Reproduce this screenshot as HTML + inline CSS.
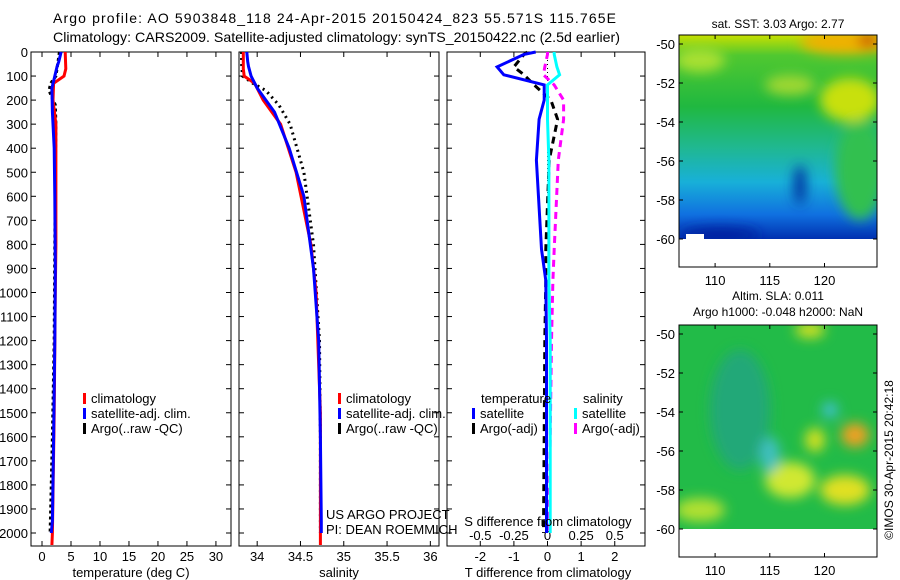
<!DOCTYPE html>
<html><head><meta charset="utf-8">
<style>
body{margin:0;background:#fff;}
svg{display:block;font-family:"Liberation Sans",sans-serif;}
text{fill:#000;}
</style></head>
<body>
<svg id="fig" width="900" height="580" viewBox="0 0 900 580" xmlns="http://www.w3.org/2000/svg">
<defs>
<linearGradient id="sstGrad" x1="0" y1="0" x2="0" y2="1">
<stop offset="0" stop-color="#c8e000"/><stop offset="0.1" stop-color="#50c830"/><stop offset="0.35" stop-color="#20b840"/><stop offset="0.55" stop-color="#20b890"/><stop offset="0.72" stop-color="#18b0d8"/><stop offset="0.88" stop-color="#1070e0"/><stop offset="1" stop-color="#0030b0"/>
</linearGradient>
<filter id="blur4"><feGaussianBlur stdDeviation="6"/></filter>
<clipPath id="m1clip"><rect x="679" y="35" width="198" height="204"/></clipPath>
<clipPath id="m2clip"><rect x="679" y="325" width="198" height="204"/></clipPath>
</defs>
<text x="53" y="23" font-size="14" textLength="563" lengthAdjust="spacing">Argo profile: AO 5903848_118 24-Apr-2015 20150424_823 55.571S 115.765E</text>
<text x="53" y="42" font-size="14" textLength="567" lengthAdjust="spacingAndGlyphs">Climatology: CARS2009. Satellite-adjusted climatology: synTS_20150422.nc (2.5d earlier)</text>
<g id="plots"></g>

<g>
<text x="778" y="28" font-size="12" text-anchor="middle">sat. SST: 3.03 Argo: 2.77</text>
<g clip-path="url(#m1clip)">
<rect x="679" y="35" width="198" height="204" fill="url(#sstGrad)"/>
<g filter="url(#blur4)">
<ellipse cx="845" cy="42" rx="45" ry="12" fill="#f0b000"/>
<ellipse cx="868" cy="40" rx="10" ry="8" fill="#d06000"/>
<ellipse cx="850" cy="100" rx="30" ry="22" fill="#c8e010"/>
<ellipse cx="790" cy="85" rx="25" ry="10" fill="#a0d830"/>
<ellipse cx="700" cy="60" rx="25" ry="12" fill="#a8e030"/>
<ellipse cx="860" cy="170" rx="25" ry="50" fill="#30c050"/>
<ellipse cx="800" cy="185" rx="6" ry="20" fill="#0030a0"/>
<ellipse cx="720" cy="235" rx="40" ry="8" fill="#0020a0"/>
</g>
<rect x="686" y="234" width="18" height="6" fill="#fff"/>
</g>
<rect x="679" y="35" width="198" height="232" fill="none" stroke="#000"/>
</g>
<g>
<text x="778" y="300" font-size="12" text-anchor="middle">Altim. SLA: 0.011</text>
<text x="778" y="316" font-size="12" text-anchor="middle">Argo h1000: -0.048 h2000: NaN</text>
<g clip-path="url(#m2clip)">
<rect x="679" y="325" width="198" height="204" fill="#22bb48"/>
<g filter="url(#blur4)">
<ellipse cx="740" cy="410" rx="30" ry="60" fill="#20a878"/>
<ellipse cx="830" cy="410" rx="8" ry="8" fill="#40c0d0"/>
<ellipse cx="855" cy="435" rx="14" ry="12" fill="#f0a020"/>
<ellipse cx="815" cy="440" rx="10" ry="12" fill="#d0e020"/>
<ellipse cx="790" cy="480" rx="25" ry="18" fill="#d0e830"/>
<ellipse cx="845" cy="490" rx="25" ry="15" fill="#e0e020"/>
<ellipse cx="700" cy="510" rx="25" ry="12" fill="#b0e030"/>
<ellipse cx="810" cy="330" rx="15" ry="8" fill="#d0e020"/>
<ellipse cx="770" cy="455" rx="10" ry="18" fill="#40c0c0"/>
</g>
</g>
<rect x="679" y="325" width="198" height="232" fill="none" stroke="#000"/>
</g>
<text transform="translate(893,460) rotate(-90)" font-size="12" text-anchor="middle">©IMOS 30-Apr-2015 20:42:18</text>
<g id="maps-axes"></g>
</svg>
<script>
var depthTicks = [0,100,200,300,400,500,600,700,800,900,1000,1100,1200,1300,1400,1500,1600,1700,1800,1900,2000];
var tempTicks = [0,5,10,15,20,25,30];
var salTicks = [34,34.5,35,35.5,36];
var salTickLabels = ["34","34.5","35","35.5","36"];
var tdiffTicks = [-2,-1,0,1,2];
var sdiffTicks = [-0.5,-0.25,0,0.25,0.5];
var sdiffTickLabels = ["-0.5","-0.25","0","0.25","0.5"];

var climDepth = [0,70,100,130,200,300,500,800,1000,1500,2000,2050];
var climTemp  = [4.0,4.1,3.8,2.0,1.9,2.4,2.4,2.4,2.3,2.1,1.8,1.7];
var satDepth  = [0,40,60,100,150,250,400,600,900,1200,1600,1950,2000];
var satTemp   = [3.3,2.9,2.6,2.2,1.7,1.8,2.1,2.2,2.3,2.2,2.0,1.8,1.6];
var argoDepth = [0,50,100,130,160,220,300,500,800,1200,1600,1900,2000];
var argoTemp  = [3.0,2.7,2.4,1.5,1.2,2.3,2.4,2.3,2.2,2.1,1.8,1.5,1.4];

var climSal = [33.84,33.84,33.85,33.97,34.07,34.27,34.45,34.62,34.68,34.73,34.73,34.73];
var satSal  = [33.88,33.89,33.9,33.93,34.0,34.2,34.37,34.54,34.65,34.71,34.73,34.74,34.74];
var argoSal = [33.82,33.82,33.83,33.95,34.1,34.25,34.38,34.54,34.65,34.72,34.73,34.73,34.73];

var dDepth    = [0,10,62,95,137,200,280,450,820,950,1200,1600,2000];
var dTempSat  = [-0.35,-0.7,-1.5,-1.3,-0.1,-0.1,-0.25,-0.33,-0.18,-0.05,-0.03,-0.03,-0.03];
var dTempArgo = [-0.6,-0.7,-1.0,-0.7,-0.4,0.1,0.3,0.05,-0.05,-0.05,-0.08,-0.1,-0.12];
var dSalSat   = [0.05,0.05,0.07,0.09,0,0.0,0.0,0.01,0.01,0.01,0.02,0.02,0.02];
var dSalArgo  = [0.0,0.0,-0.02,-0.03,0.05,0.12,0.12,0.08,0.05,0.04,0.03,0.02,0.01];

var lonTicks = [110,115,120];
var latTicks = [-50,-52,-54,-56,-58,-60];

var NS="http://www.w3.org/2000/svg";
var root=document.getElementById('plots');
function mk(tag,attrs,parent){var e=document.createElementNS(NS,tag);for(var k in attrs)e.setAttribute(k,attrs[k]);(parent||root).appendChild(e);return e;}
var Y0=52, Y1=546, D0=0, D1=2054;
function yD(d){return Y0+(d-D0)/(D1-D0)*(Y1-Y0);}
function lin(a,b,pa,pb){return function(v){return pa+(v-a)/(b-a)*(pb-pa);};}

var xT=lin(-1.9,32.6,31,231);
var xS=lin(33.79,36.1,239,439);
var xTd=lin(-2.99,2.9,447,645);
var xSd=function(v){return xTd(v*4);};

function frame(x0,x1,name){
  var r=mk('rect',{x:x0,y:Y0,width:x1-x0,height:Y1-Y0,fill:'none',stroke:'#000','stroke-width':1});
  
  
}
function line(xs,ds,xf,color,w,dash,name){
  var pts=[];for(var i=0;i<xs.length;i++)pts.push(xf(xs[i]).toFixed(1)+','+yD(ds[i]).toFixed(1));
  var p=mk('polyline',{points:pts.join(' '),fill:'none',stroke:color,'stroke-width':w});
  if(dash)p.setAttribute('stroke-dasharray',dash);
  
  
}
function xticks(ticks,labels,xf,ylab,name){
  for(var i=0;i<ticks.length;i++){
    var x=xf(ticks[i]);
    mk('line',{x1:x,x2:x,y1:Y1,y2:Y1-5,stroke:'#000'});
    mk('line',{x1:x,x2:x,y1:Y0,y2:Y0+5,stroke:'#000'});
    var t=mk('text',{x:x,y:ylab,'font-size':13,'text-anchor':'middle'});
    t.textContent=labels[i];
    
    
  }
}
function yticks(x0,x1,labels){
  for(var i=0;i<depthTicks.length;i++){
    var y=yD(depthTicks[i]);
    mk('line',{x1:x0,x2:x0+5,y1:y,y2:y,stroke:'#000'});
    mk('line',{x1:x1,x2:x1-5,y1:y,y2:y,stroke:'#000'});
    if(labels){var t=mk('text',{x:x0-3,y:y+5,'font-size':13,'text-anchor':'end'});t.textContent=depthTicks[i];
    
    }
  }
}
function label(x,y,s,name,anchor){var t=mk('text',{x:x,y:y,'font-size':13,'text-anchor':anchor||'start'});t.textContent=s;
  
  return t;}
function legendEntry(x,y,color,s,name){
  mk('rect',{x:x,y:y-10,width:3,height:11,fill:color});
  label(x+8,y,s,name);
}

frame(31,231,'temperature-panel');
yticks(31,231,true);
xticks(tempTicks,tempTicks.map(String),xT,561,'temperature');
line(argoTemp,argoDepth,xT,'#000',3,'3 3','argo-temp-line');
line(climTemp,climDepth,xT,'#f00',3,null,'clim-temp-line');
line(satTemp,satDepth,xT,'#00f',3,null,'sat-temp-line');
label(131,577,'temperature (deg C)','temperature-axis-title','middle');
legendEntry(83,403,'#f00','climatology','legend-climatology');
legendEntry(83,418,'#00f','satellite-adj. clim.','legend-satellite');
legendEntry(83,433,'#000','Argo(..raw -QC)','legend-argo');

frame(239,439,'salinity-panel');
yticks(239,439,false);
xticks(salTicks,salTickLabels,xS,561,'salinity');
line(argoSal,argoDepth,xS,'#000',3,'2 4','argo-sal-line');
line(climSal,climDepth,xS,'#f00',3,null,'clim-sal-line');
line(satSal,satDepth,xS,'#00f',3,null,'sat-sal-line');
label(339,577,'salinity','salinity-axis-title','middle');
legendEntry(338,403,'#f00','climatology','legend-climatology-2');
legendEntry(338,418,'#00f','satellite-adj. clim.','legend-satellite-2');
legendEntry(338,433,'#000','Argo(..raw -QC)','legend-argo-2');
label(326,519,'US ARGO PROJECT','project-label');
label(326,534,'PI: DEAN ROEMMICH','pi-label');

frame(447,645,'difference-panel');
yticks(447,645,false);
xticks(tdiffTicks,tdiffTicks.map(String),xTd,561,'tdiff');
for(var i=0;i<sdiffTicks.length;i++){label(xSd(sdiffTicks[i]),540,sdiffTickLabels[i],'sdiff-tick-label','middle');}
mk('line',{x1:xTd(0),x2:xTd(0),y1:Y0,y2:yD(600),stroke:'#000','stroke-dasharray':'1 3'});
line(dTempArgo,dDepth,xTd,'#000',3,'7 5','argo-tdiff-line');
line(dSalArgo,dDepth,xSd,'#f0f',3,'7 5','argo-sdiff-line');
line(dSalSat,dDepth,xSd,'#0ff',3,null,'sat-sdiff-line');
line(dTempSat,dDepth,xTd,'#00f',3,null,'sat-tdiff-line');
label(548,526,'S difference from climatology','sdiff-axis-title','middle');
label(548,577,'T difference from climatology','tdiff-axis-title','middle');
label(481,403,'temperature','legend-temperature-header');
label(583,403,'salinity','legend-salinity-header');
legendEntry(472,418,'#00f','satellite','legend-temp-satellite');
legendEntry(472,433,'#000','Argo(-adj)','legend-temp-argo');
legendEntry(574,418,'#0ff','satellite','legend-sal-satellite');
legendEntry(574,433,'#f0f','Argo(-adj)','legend-sal-argo');

var ma=document.getElementById('maps-axes');
var xLon=lin(106.7,124.8,679,877);
function mapAxes(top,latTop,latBot,bottom){
  var yL=lin(latTop,latBot,top+9,top+204);
  for(var i=0;i<lonTicks.length;i++){
    var x=xLon(lonTicks[i]);
    mk('line',{x1:x,x2:x,y1:bottom,y2:bottom-4,stroke:'#000'},ma);
    mk('line',{x1:x,x2:x,y1:top,y2:top+4,stroke:'#000'},ma);
    var t=mk('text',{x:x,y:bottom+18,'font-size':13,'text-anchor':'middle'},ma);t.textContent=lonTicks[i];
    
    
  }
  for(var j=0;j<latTicks.length;j++){
    var y=yL(latTicks[j]);
    mk('line',{x1:679,x2:683,y1:y,y2:y,stroke:'#000'},ma);
    mk('line',{x1:877,x2:873,y1:y,y2:y,stroke:'#000'},ma);
    var t2=mk('text',{x:675,y:y+5,'font-size':13,'text-anchor':'end'},ma);t2.textContent=latTicks[j];
    
    
  }
}
mapAxes(35,-50,-60,267);
mapAxes(325,-50,-60,557);
</script>
</body></html>
